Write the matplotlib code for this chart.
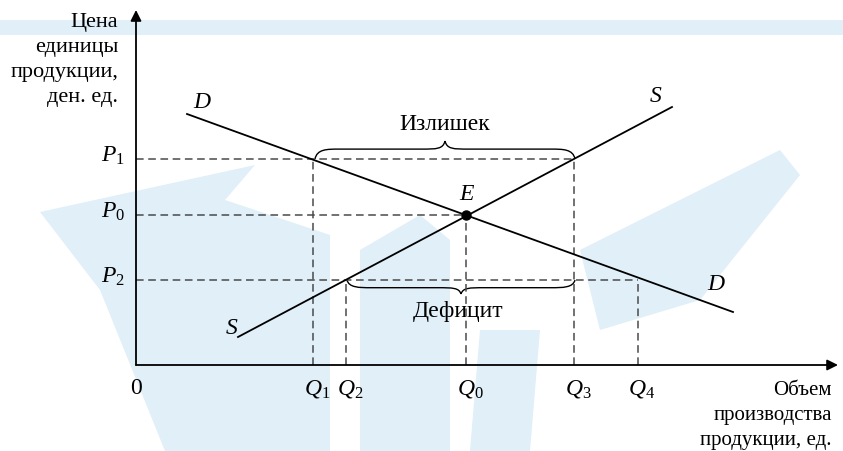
import matplotlib.pyplot as plt
from matplotlib.patches import Polygon
from matplotlib.path import Path
import matplotlib.patches as pltp

plt.rcParams['mathtext.fontset'] = 'custom'
plt.rcParams['mathtext.rm'] = 'Liberation Serif'
plt.rcParams['mathtext.it'] = 'Liberation Serif:italic'
plt.rcParams['font.family'] = ['Liberation Serif', 'DejaVu Serif']

# demand and supply lines, endpoints (quantity, price)
demand_q = [51, 597]
demand_p = [251, 53]
supply_q = [102, 536]
supply_p = [28, 258]

# price levels and quantities on the axes
price_labels = ['$P_1$', '$P_0$', '$P_2$']
price_values = [206, 150, 85]
qty_labels = ['$Q_1$', '$Q_2$', '$Q_0$', '$Q_3$', '$Q_4$']
qty_values = [177, 210, 330, 438, 502]
qty_heights = [206, 85, 150, 206, 85]

eq_q, eq_p = 330, 150

y_title = ['Цена', 'единицы', 'продукции,', 'ден. ед.']
x_title = ['Объем', 'производства', 'продукции, ед.']

FS = 17
dash_col = '#4a4a4a'
wm = '#e0eff8'

fig = plt.figure(figsize=(8.43, 4.51), dpi=100)
ax = fig.add_axes([0, 0, 1, 1])
ax.set_xlim(-136, 843 - 136)
ax.set_ylim(365 - 451, 365)
ax.axis('off')

# faint background band and shapes
ax.add_patch(pltp.Rectangle((-136, 330), 843, 15, color=wm, lw=0, zorder=0))
def wm_poly(pts):
    ax.add_patch(Polygon([(x - 136, 365 - y) for x, y in pts], closed=True,
                         color=wm, lw=0, zorder=0))
wm_poly([(40, 212), (255, 165), (225, 200), (330, 235), (330, 451),
         (165, 451), (100, 290)])
wm_poly([(360, 250), (420, 215), (450, 240), (450, 451), (360, 451)])
wm_poly([(580, 250), (780, 150), (800, 175), (700, 300), (600, 330)])
wm_poly([(470, 451), (480, 330), (540, 330), (530, 451)])

# axes with arrows
ax.annotate('', xy=(0, 355), xytext=(0, 0),
            arrowprops=dict(arrowstyle='-|>', color='black', lw=1.3,
                            mutation_scale=16, shrinkA=0, shrinkB=0))
ax.annotate('', xy=(702, 0), xytext=(0, 0),
            arrowprops=dict(arrowstyle='-|>', color='black', lw=1.3,
                            mutation_scale=16, shrinkA=0, shrinkB=0))

# dashed guide lines
for p, qmax in zip(price_values, [438, eq_q, 502]):
    ax.plot([0, qmax], [p, p], ls=(0, (5, 3)), color=dash_col, lw=1.1)
for q, h in zip(qty_values, qty_heights):
    ax.plot([q, q], [0, h], ls=(0, (5, 3)), color=dash_col, lw=1.1)

# curves
ax.plot(demand_q, demand_p, color='black', lw=1.3)
ax.plot(supply_q, supply_p, color='black', lw=1.3)
ax.plot([eq_q], [eq_p], 'o', color='black', ms=6.5, zorder=5)

ax.text(66, 262, '$D$', fontsize=FS, ha='center', va='center')
ax.text(580, 81, '$D$', fontsize=FS, ha='center', va='center')
ax.text(96, 36, '$S$', fontsize=FS, ha='center', va='center')
ax.text(520, 268, '$S$', fontsize=FS, ha='center', va='center')
ax.text(331, 170, '$E$', fontsize=FS, ha='center', va='center')

# tick labels
for lab, p in zip(price_labels, price_values):
    ax.text(-11, p - 3, lab, fontsize=FS, ha='right', va='baseline')
for lab, q in zip(qty_labels, qty_values):
    ax.text(q + 4, -30, lab, fontsize=FS, ha='center', va='baseline')
ax.text(0, -29, '0', fontsize=FS, ha='center', va='baseline')

# axis titles
for i, line in enumerate(y_title):
    ax.text(-18, 338 - 25 * i, line, fontsize=16, ha='right', va='baseline')
for i, line in enumerate(x_title):
    ax.text(696, -30 - 25 * i, line, fontsize=15, ha='right', va='baseline')

# curly braces
def brace(x0, x1, y, h, up=True):
    s = 1 if up else -1
    xm = (x0 + x1) / 2
    m = y + s * h * 0.55
    t = y + s * h
    verts = [(x0, y), (x0 + 2, m), (x0 + 12, m), (x0 + 24, m),
             (xm - 24, m),
             (xm - 8, m), (xm - 2, m), (xm, t),
             (xm, t),
             (xm + 2, m), (xm + 8, m), (xm + 24, m),
             (x1 - 24, m),
             (x1 - 12, m), (x1 - 2, m), (x1, y)]
    codes = [Path.MOVETO, Path.CURVE4, Path.CURVE4, Path.CURVE4,
             Path.LINETO,
             Path.CURVE4, Path.CURVE4, Path.CURVE4,
             Path.MOVETO,
             Path.CURVE4, Path.CURVE4, Path.CURVE4,
             Path.LINETO,
             Path.CURVE4, Path.CURVE4, Path.CURVE4]
    ax.add_patch(pltp.PathPatch(Path(verts, codes), fill=False,
                                edgecolor='black', lw=1.0))

brace(179, 439, 206, 18, up=True)
brace(211, 439, 85, 14, up=False)
ax.text(309, 240, 'Излишек', fontsize=FS, ha='center', va='center')
ax.text(322, 53, 'Дефицит', fontsize=FS, ha='center', va='center')

fig.savefig('out.png', dpi=100)
